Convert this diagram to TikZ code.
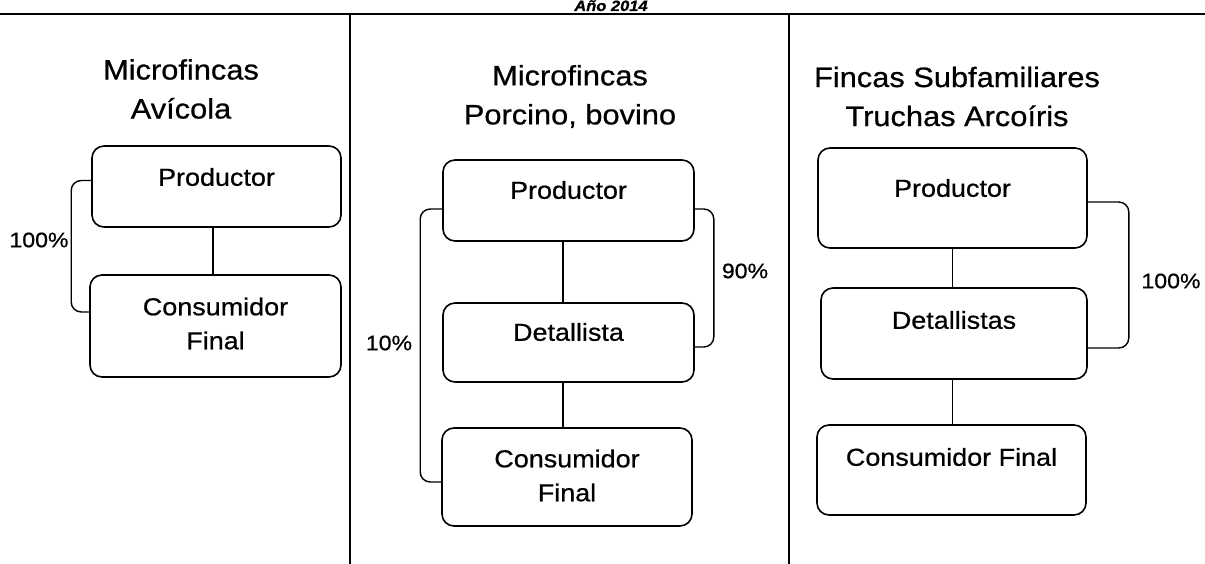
\documentclass[tikz,border=0pt]{standalone}
\usepackage{fontspec}
\setmainfont{Liberation Sans}[FakeStretch=1.1, FakeBold=0.7]
\begin{document}
\begin{tikzpicture}[x=1pt, y=-1pt,
	box/.style={draw, line width=1.6pt, rounded corners=12pt, inner sep=0pt},
	boxtext/.style={font=\fontsize{24.5}{34}\selectfont, align=center, inner sep=0pt},
	coltitle/.style={font=\fontsize{28}{39}\selectfont, align=center, inner sep=0pt},
	pct/.style={font=\fontsize{21}{25}\selectfont, inner sep=0pt},
	link/.style={line width=1.4pt},
	bracket/.style={line width=1.4pt, rounded corners=10pt}]
	\useasboundingbox (0,0) rectangle (1205,564);
	% cabecera y divisiones
	\node[font=\fontsize{15}{16}\selectfont\bfseries\itshape, anchor=base, inner sep=0pt] (anio) at (611,11) {Año 2014};
	\coordinate (tl) at (0,14);
	\coordinate (tr) at (1205,14);
	\draw[line width=2.4pt] (tl) -- (tr);
	\coordinate (d1) at (350,14);
	\coordinate (d2) at (789,14);
	\draw[line width=1.2pt] (d1) -- (d1 |- 0,564);
	\draw[line width=1.2pt] (d2) -- (d2 |- 0,564);
	% columna 1
	\node[coltitle] (t1) at (181,89) {Microfincas\\Avícola};
	\node[box, minimum width=249, minimum height=81] (a1) at (216.5,186.5) {};
	\node[boxtext] (a1t) at (216.5,177) {Productor};
	\node[box, minimum width=251, minimum height=102] (a2) at (215.5,326) {};
	\node[boxtext] (a2t) at (215.5,323.5) {Consumidor\\Final};
	\draw[link] ([xshift=-3.5]a1.south) -- ([xshift=-3.5]a1.south |- a2.north);
	\draw[bracket] ([yshift=6]a1.west) -| ([xshift=-18,yshift=14]a2.west) -- ([yshift=14]a2.west);
	\node[pct] (l1) at (39,240) {100\%};
	% columna 2
	\node[coltitle] (t2) at (570,96.5) {Microfincas\\Porcino, bovino};
	\node[box, minimum width=251, minimum height=81] (b1) at (568.5,200.5) {};
	\node[boxtext] (b1t) at (568.5,190) {Productor};
	\node[box, minimum width=251, minimum height=79] (b2) at (568.5,342.5) {};
	\node[boxtext] (b2t) at (568.5,332) {Detallista};
	\node[box, minimum width=250, minimum height=98] (b3) at (567,477) {};
	\node[boxtext] (b3t) at (567,475.5) {Consumidor\\Final};
	\draw[link] ([xshift=-5.5]b1.south) -- ([xshift=-5.5]b1.south |- b2.north);
	\draw[link] ([xshift=-5.5]b2.south) -- ([xshift=-5.5]b2.south |- b3.north);
	\draw[bracket] ([yshift=-8.5]b1.west) -| ([xshift=-21,yshift=-5]b3.west) -- ([yshift=-5]b3.west);
	\draw[bracket] ([yshift=-8.5]b1.east) -| ([xshift=19,yshift=-4.5]b2.east) -- ([yshift=-4.5]b2.east);
	\node[pct] (l2) at (389,343) {10\%};
	\node[pct] (l3) at (745,271) {90\%};
	% columna 3
	\node[coltitle] (t3) at (957,96.5) {Fincas Subfamiliares\\Truchas Arcoíris};
	\node[box, minimum width=269, minimum height=100] (c1) at (952.5,198) {};
	\node[boxtext] (c1t) at (952.5,188) {Productor};
	\node[box, minimum width=266, minimum height=91] (c2) at (954,333.5) {};
	\node[boxtext] (c2t) at (954,320) {Detallistas};
	\node[box, minimum width=269, minimum height=90] (c3) at (951.5,470) {};
	\node[boxtext] (c3t) at (951.5,457) {Consumidor Final};
	\draw[link] (c1.south) -- (c1.south |- c2.north);
	\draw[link] (c1.south |- c2.south) -- (c1.south |- c3.north);
	\draw[bracket] ([yshift=-4]c1.east) -| ([xshift=41,yshift=-14.5]c2.east) -- ([yshift=-14.5]c2.east);
	\node[pct] (l4) at (1171,281) {100\%};
\end{tikzpicture}
\end{document}
